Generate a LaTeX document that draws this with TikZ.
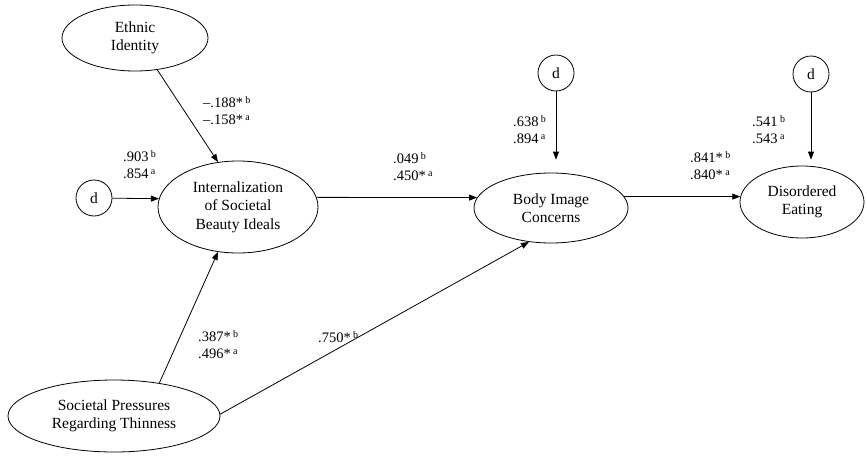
\documentclass[tikz,border=0pt]{standalone}
\usepackage{fontspec}
\setmainfont{Liberation Serif}
\usetikzlibrary{arrows.meta,shapes.geometric}
\newcommand\sps[1]{\,\raisebox{0.6ex}{\fontsize{10}{10}\selectfont #1}}
\begin{document}
\begin{tikzpicture}[x=1pt,y=-1pt,
  latent/.style={draw, ellipse, inner sep=0pt, align=center, font=\fontsize{15.5}{18.5}\selectfont, line width=0.8pt},
  dist/.style={draw, circle, minimum size=36pt, inner sep=0pt, font=\fontsize{15.5}{18}\selectfont, line width=0.8pt},
  arr/.style={line width=0.8pt, -{Triangle[length=8pt,width=6pt]}},
  coef/.style={align=left, anchor=west, inner sep=0pt, font=\fontsize{14.5}{17}\selectfont}]
\fill[white] (0,0) rectangle (867,455);
\useasboundingbox (0,0) rectangle (867,455);

\node[latent, minimum width=146pt, minimum height=66pt] (eth) at (135,38) {Ethnic\\Identity};
\node[latent, minimum width=160pt, minimum height=92pt] (int) at (238,207) {Internalization\\of Societal\\Beauty Ideals};
\node[latent, minimum width=154pt, minimum height=70pt] (bic) at (551,208) {Body Image\\Concerns};
\node[latent, minimum width=124pt, minimum height=72pt] (dis) at (802,202) {Disordered\\Eating};
\node[latent, minimum width=212pt, minimum height=72pt] (soc) at (114,416) {Societal Pressures\\Regarding Thinness};
\node[dist] (d1) at (94,198) {d};
\node[dist] (d2) at (556,73) {d};
\node[dist] (d3) at (811,74) {d};

\draw[arr] (eth.-55) -- (int.114);
\draw[arr] (d1) -- (int.174);
\draw[arr] (int.7) -- (bic.172);
\draw[arr] (bic.9) -- (dis.175);
\draw[arr, shorten >=13pt] (d2) -- (d2 |- bic.north);
\draw[arr, shorten >=6pt] (d3) -- (d3 |- dis.north);
\draw[arr] (soc.36) -- (int.-114);
\draw[arr] (soc.1) -- (bic.-123);

\node[coef] (l1) at (203,111) {–.188*\sps{b}\\–.158*\sps{a}};
\node[coef] (l2) at (123,165) {.903\sps{b}\\.854\sps{a}};
\node[coef] (l3) at (393,167) {.049\sps{b}\\.450*\sps{a}};
\node[coef] (l4) at (513,130) {.638\sps{b}\\.894\sps{a}};
\node[coef] (l5) at (752,130) {.541\sps{b}\\.543\sps{a}};
\node[coef] (l6) at (690,166) {.841*\sps{b}\\.840*\sps{a}};
\node[coef] (l7) at (198,345) {.387*\sps{b}\\.496*\sps{a}};
\node[coef] (l8) at (318,337) {.750*\sps{b}};
\end{tikzpicture}
\end{document}
